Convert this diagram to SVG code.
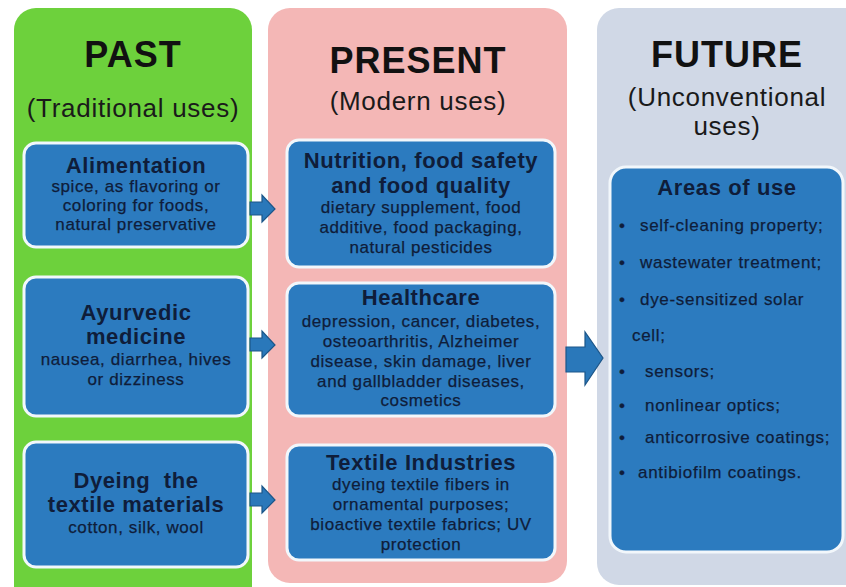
<svg xmlns="http://www.w3.org/2000/svg" width="846" height="587" viewBox="0 0 846 587">
  <style>
    .panel-title { font-family: "Liberation Sans", Arial, sans-serif; font-weight: bold; font-size: 36px; letter-spacing: 1px; fill: #111; text-anchor: middle; }
    .panel-sub { font-family: "Liberation Sans", Arial, sans-serif; font-size: 26px; letter-spacing: 0.7px; fill: #1a1a1a; text-anchor: middle; }
    .box { fill: #2c7bbf; stroke: #f2f7fb; stroke-width: 3; }
    .head { font-family: "Liberation Sans", Arial, sans-serif; font-weight: bold; font-size: 22px; letter-spacing: 0.6px; fill: #0f1d3a; text-anchor: middle; }
    .body { font-family: "Liberation Sans", Arial, sans-serif; font-size: 17px; letter-spacing: 0.6px; fill: #0f1d3a; stroke: #0f1d3a; stroke-width: 0.25; text-anchor: middle; }
    .item { font-family: "Liberation Sans", Arial, sans-serif; font-size: 17px; letter-spacing: 0.7px; fill: #0f1d3a; stroke: #0f1d3a; stroke-width: 0.25; }
    .arrow { fill: #2a78ba; stroke: #1c5689; stroke-width: 1.2; }
  </style>

  <rect width="846" height="587" fill="#ffffff"/>

  <!-- Column backgrounds -->
  <g id="past-panel">
    <rect x="14" y="8" width="238" height="600" rx="22" fill="#6dd13c"/>
    <text class="panel-title" x="133" y="67">PAST</text>
    <text class="panel-sub" x="133" y="117">(Traditional uses)</text>
  </g>
  <g id="present-panel">
    <rect x="268" y="8" width="299" height="575" rx="22" fill="#f4b7b6"/>
    <text class="panel-title" x="418" y="73">PRESENT</text>
    <text class="panel-sub" x="418" y="110">(Modern uses)</text>
  </g>
  <g id="future-panel">
    <rect x="597" y="8" width="280" height="577" rx="22" fill="#d0d8e6"/>
    <text class="panel-title" x="727" y="67">FUTURE</text>
    <text class="panel-sub" x="727" y="106">(Unconventional</text>
    <text class="panel-sub" x="727" y="135">uses)</text>
  </g>

  <!-- PAST boxes -->
  <g id="alimentation">
    <rect class="box" x="24" y="143" width="224" height="104" rx="12"/>
    <text class="head" x="136" y="173">Alimentation</text>
    <text class="body" x="136" y="192">spice, as flavoring or</text>
    <text class="body" x="136" y="211">coloring for foods,</text>
    <text class="body" x="136" y="230">natural preservative</text>
  </g>
  <g id="ayurvedic">
    <rect class="box" x="24" y="277" width="224" height="139" rx="12"/>
    <text class="head" x="136" y="320">Ayurvedic</text>
    <text class="head" x="136" y="344">medicine</text>
    <text class="body" x="136" y="365">nausea, diarrhea, hives</text>
    <text class="body" x="136" y="385">or dizziness</text>
  </g>
  <g id="dyeing">
    <rect class="box" x="24" y="442" width="224" height="125" rx="12"/>
    <text class="head" x="136" y="488" xml:space="preserve">Dyeing  the</text>
    <text class="head" x="136" y="512">textile materials</text>
    <text class="body" x="136" y="533">cotton, silk, wool</text>
  </g>

  <!-- PRESENT boxes -->
  <g id="nutrition">
    <rect class="box" x="287" y="140" width="268" height="127" rx="12"/>
    <text class="head" x="421" y="168">Nutrition, food safety</text>
    <text class="head" x="421" y="193">and food quality</text>
    <text class="body" x="421" y="213">dietary supplement, food</text>
    <text class="body" x="421" y="233">additive, food packaging,</text>
    <text class="body" x="421" y="253">natural pesticides</text>
  </g>
  <g id="healthcare">
    <rect class="box" x="287" y="283" width="268" height="133" rx="12"/>
    <text class="head" x="421" y="305">Healthcare</text>
    <text class="body" x="421" y="327">depression, cancer, diabetes,</text>
    <text class="body" x="421" y="347">osteoarthritis, Alzheimer</text>
    <text class="body" x="421" y="367">disease, skin damage, liver</text>
    <text class="body" x="421" y="387">and gallbladder diseases,</text>
    <text class="body" x="421" y="406">cosmetics</text>
  </g>
  <g id="textile">
    <rect class="box" x="287" y="445" width="268" height="115" rx="12"/>
    <text class="head" x="421" y="470">Textile Industries</text>
    <text class="body" x="421" y="490">dyeing textile fibers in</text>
    <text class="body" x="421" y="510">ornamental purposes;</text>
    <text class="body" x="421" y="530">bioactive textile fabrics; UV</text>
    <text class="body" x="421" y="550">protection</text>
  </g>

  <!-- FUTURE box -->
  <g id="areas-of-use">
    <rect class="box" x="610" y="167" width="233" height="385" rx="16"/>
    <text class="head" x="727" y="195">Areas of use</text>
    <g class="item">
      <text x="619" y="231">•</text><text x="640" y="231">self-cleaning property;</text>
      <text x="619" y="268">•</text><text x="640" y="268">wastewater treatment;</text>
      <text x="619" y="305">•</text><text x="640" y="305">dye-sensitized solar</text>
      <text x="632" y="341">cell;</text>
      <text x="619" y="377">•</text><text x="645" y="377">sensors;</text>
      <text x="619" y="411">•</text><text x="645" y="411">nonlinear optics;</text>
      <text x="619" y="443">•</text><text x="645" y="443">anticorrosive coatings;</text>
      <text x="619" y="478">•</text><text x="638" y="478">antibiofilm coatings.</text>
    </g>
  </g>

  <!-- Connectors -->
  <g id="connectors">
    <path class="arrow" d="M250,202 H262 V195 L275,209 L262,222 V215 H250 Z"/>
    <path class="arrow" d="M250,338 H262 V331 L275,345 L262,358 V351 H250 Z"/>
    <path class="arrow" d="M250,493 H262 V486 L275,500 L262,513 V506 H250 Z"/>
    <path class="arrow" d="M566,347 H585 V332 L603,358 L585,385 V372 H566 Z"/>
  </g>
</svg>
